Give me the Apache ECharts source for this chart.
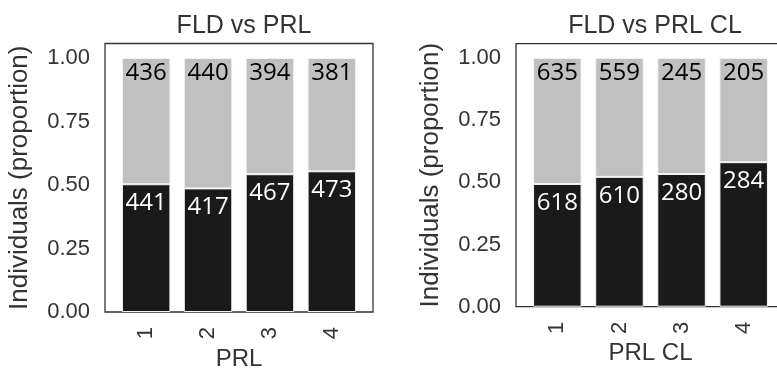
<!DOCTYPE html>
<html>
<head>
<meta charset="utf-8">
<script src="https://cdn.jsdelivr.net/npm/echarts@6/dist/echarts.min.js"></script>
<style>html,body{margin:0;padding:0;background:#fff}#c{width:777px;height:368px}</style>
</head>
<body>
<div id="c"></div>
<script>
// Data
const categories = ['1', '2', '3', '4'];
const leftTitle = 'FLD vs PRL';
const rightTitle = 'FLD vs PRL CL';
const leftXName = 'PRL';
const rightXName = 'PRL CL';
const yName = 'Individuals (proportion)';
const lowerLeft = [441, 417, 467, 473];   // black (bottom)
const upperLeft = [436, 440, 394, 381];   // gray (top)
const lowerRight = [618, 610, 280, 284];
const upperRight = [635, 559, 245, 205];
const yTicks = [0, 0.25, 0.5, 0.75, 1.0];

const FONT = 'Liberation Sans';
const TXT = '#333';

// rows: [proportion, categoryIndex]  (value dim first so it is the stacked one)
function props(lower, upper, part) {
  return lower.map((v, i) => [(part === 'lower' ? v : upper[i]) / (v + upper[i]), i]);
}

const grids = [
  { left: 105, top: 43.5, width: 268, height: 268.5 },
  { left: 516, top: 43.7, width: 269, height: 263 }
];

function xAxis(idx, name, gap) {
  return {
    type: 'value', gridIndex: idx, min: -0.665, max: 3.665,
    name: name, nameLocation: 'middle', nameGap: gap,
    nameTextStyle: { fontFamily: FONT, fontSize: 24, color: TXT },
    axisLine: { show: false }, axisTick: { show: false }, splitLine: { show: false },
    axisLabel: {
      customValues: [0, 1, 2, 3], rotate: 90, margin: 15,
      formatter: v => categories[Math.round(v)],
      fontFamily: FONT, fontSize: 22, color: TXT
    }
  };
}
function yAxis(idx) {
  return {
    type: 'value', gridIndex: idx, min: 0, max: 1.057,
    name: yName, nameLocation: 'middle', nameGap: 72,
    nameTextStyle: { fontFamily: FONT, fontSize: 26, color: TXT },
    axisLine: { show: false }, axisTick: { show: false }, splitLine: { show: false },
    axisLabel: {
      customValues: yTicks, margin: 15,
      formatter: v => v.toFixed(2),
      fontFamily: FONT, fontSize: 22, color: TXT
    }
  };
}
function barSeries(idx, data, counts, color, textColor, dist, stack) {
  return {
    type: 'bar', xAxisIndex: idx, yAxisIndex: idx, stack: stack,
    data: data, encode: { x: 1, y: 0 }, barWidth: 48.5,
    itemStyle: { color: color, borderColor: '#f4f4f4', borderWidth: 1 },
    label: {
      show: true, position: 'insideTop', distance: dist,
      formatter: p => String(counts[p.dataIndex]),
      fontFamily: 'Open Sans', fontSize: 24, color: textColor
    },
    silent: true, animation: false
  };
}

const chart = echarts.init(document.getElementById('c'));
chart.setOption({
  animation: false,
  title: [
    { text: leftTitle, left: 239, top: 9, textAlign: 'center',
      textStyle: { fontFamily: FONT, fontSize: 25, fontWeight: 'normal', color: TXT } },
    { text: rightTitle, left: 650, top: 9, textAlign: 'center',
      textStyle: { fontFamily: FONT, fontSize: 25, fontWeight: 'normal', color: TXT } }
  ],
  grid: grids.map(g => Object.assign({ show: true, borderColor: '#333', borderWidth: 1.3, backgroundColor: '#fff', containLabel: false, outerBoundsMode: 'none' }, g)),
  xAxis: [xAxis(0, leftXName, 31), xAxis(1, rightXName, 29)],
  yAxis: [yAxis(0), yAxis(1)],
  series: [
    barSeries(0, props(lowerLeft, upperLeft, 'lower'), lowerLeft, '#1a1a1a', '#fff', 7, 'a'),
    barSeries(0, props(lowerLeft, upperLeft, 'upper'), upperLeft, '#c0c0c0', '#000', 3, 'a'),
    barSeries(1, props(lowerRight, upperRight, 'lower'), lowerRight, '#1a1a1a', '#fff', 7, 'b'),
    barSeries(1, props(lowerRight, upperRight, 'upper'), upperRight, '#c0c0c0', '#000', 3, 'b')
  ]
});
</script>
</body>
</html>
